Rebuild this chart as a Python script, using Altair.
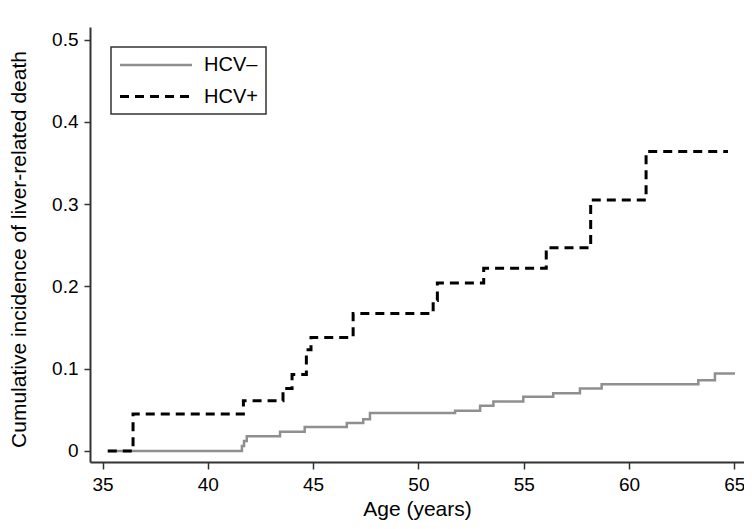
import altair as alt
import pandas as pd

# HCV- (grey, solid) step curve change points
neg_age = [35.25, 41.62, 41.72, 41.85, 43.43, 44.6, 46.6, 47.38, 47.7, 51.74,
           52.93, 53.56, 54.98, 56.4, 57.67, 58.7, 63.29, 64.08, 65.03]
neg_inc = [0.0, 0.006, 0.012, 0.018, 0.0235, 0.029, 0.034, 0.0385, 0.046, 0.049,
           0.055, 0.060, 0.066, 0.070, 0.076, 0.081, 0.086, 0.094, 0.094]

# HCV+ (black, dashed) step curve change points
pos_age = [35.25, 36.45, 41.69, 43.57, 44.0, 44.68, 44.9, 46.9, 50.7, 50.9,
           53.1, 56.07, 58.18, 60.81, 64.7]
pos_inc = [0.0, 0.045, 0.061, 0.076, 0.093, 0.123, 0.138, 0.167, 0.183, 0.204,
           0.222, 0.247, 0.305, 0.364, 0.364]

groups = ["HCV–", "HCV+"]
x_ticks = [35, 40, 45, 50, 55, 60, 65]
y_ticks = [0, 0.1, 0.2, 0.3, 0.4, 0.5]

df = pd.concat([
    pd.DataFrame({"age": neg_age, "inc": neg_inc, "group": groups[0], "order": range(len(neg_age))}),
    pd.DataFrame({"age": pos_age, "inc": pos_inc, "group": groups[1], "order": range(len(pos_age))}),
])

FONT = "Liberation Sans"

chart = alt.Chart(df).mark_line(interpolate="step-after", strokeCap="butt").encode(
    x=alt.X("age:Q",
            scale=alt.Scale(domain=[34.406, 65.46], nice=False, zero=False),
            axis=alt.Axis(values=x_ticks, title="Age (years)", grid=False,
                          titleY=53, titleBaseline="alphabetic",
                          tickSize=7, labelPadding=6)),
    y=alt.Y("inc:Q",
            scale=alt.Scale(domain=[-0.0134, 0.5152], nice=False, zero=False),
            axis=alt.Axis(values=y_ticks, title="Cumulative incidence of liver-related death",
                          grid=False, tickSize=6, labelPadding=6,
                          labelExpr="datum.value == 0 ? '0' : format(datum.value, '.1f')",
                          titleX=-71, titleY=222, titleBaseline="middle", titleAlign="center")),
    color=alt.Color("group:N", scale=alt.Scale(domain=groups, range=["#8f8f8f", "#000000"]),
                    legend=alt.Legend(title=None)),
    strokeDash=alt.StrokeDash("group:N", scale=alt.Scale(domain=groups, range=[[1, 0], [9, 6]]),
                              legend=alt.Legend(title=None)),
    strokeWidth=alt.StrokeWidth("group:N", scale=alt.Scale(domain=groups, range=[2.5, 3]),
                                legend=alt.Legend(title=None)),
    order="order:Q",
).properties(
    width=654, height=435,
    autosize=alt.AutoSizeParams(type="none"),
    padding={"left": 82, "top": 19, "right": 0, "bottom": 59},
).configure_view(stroke=None).configure_axis(
    labelFont=FONT, titleFont=FONT, labelFontSize=19, titleFontSize=21,
    labelColor="#000", titleColor="#000", titleFontWeight="normal",
    domainColor="#333", domainWidth=2, tickColor="#333", tickWidth=1.5,
).configure_legend(
    orient="none", legendX=21, legendY=20,
    strokeColor="#333", strokeWidth=1.5, fillColor="white",
    padding=7.5, symbolType="M-1,0H7", symbolSize=324,
    labelOffset=64.5, rowPadding=10.5,
    labelFont=FONT, labelFontSize=20, labelColor="#000", labelLimit=300,
)

chart.save("out.html", embed_options={"renderer": "svg", "actions": False})
